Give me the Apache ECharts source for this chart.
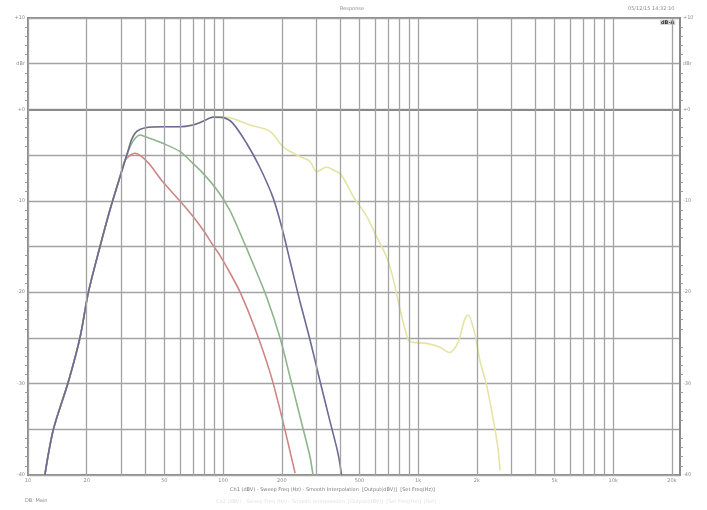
<!DOCTYPE html>
<html><head><meta charset="utf-8">
<script src="https://cdn.jsdelivr.net/npm/echarts@6/dist/echarts.min.js"></script>
<style>html,body{margin:0;padding:0;background:#fff}#c{width:707px;height:510px}</style>
</head><body><div id="c"></div>
<script>
// ---- data ----
const xGridFreqs = [10,20,30,40,50,60,70,80,90,100,200,300,400,500,600,700,800,900,1000,2000,3000,4000,5000,6000,7000,8000,9000,10000,20000];
const xLabelFreqs = [10,20,50,100,200,500,1000,2000,5000,10000,20000];
const xLabelTexts = ['10','20','50','100','200','500','1k','2k','5k','10k','20k'];
const yTickValues = [10,5,0,-10,-20,-30,-40];
const yLeftLabels = ['+10','dBr','+0','-10','-20','-30','-40'];
const yRightLabels = ['+10','dBr','+0','-10','-20','-30','-40'];

const riseFreq = [12.2,13.5,16.1,18.5,20.4,23.4,26.3,29.6];
const riseLevel = [-40,-35,-29.8,-24.9,-20,-15,-11,-7.4];

const redFreq = [31.4,33.5,35.4,38,42,49,60,70,79,89,96.5,108.6,122.3,145.9,174.2,196.1,215.4,234];
const redLevel = [-5.6,-5.0,-4.8,-5.1,-6.0,-7.9,-10,-11.7,-13.2,-14.9,-16.0,-17.9,-20.0,-24.0,-28.8,-32.9,-36.5,-39.8];

const greenFreq = [32.1,34.5,37.5,40,49,60,70,79,93,108,122,142,167,196,220,252,279,289];
const greenLevel = [-5,-3.5,-2.8,-3,-3.7,-4.6,-5.9,-7,-8.8,-11,-13.5,-16.8,-20.5,-25.0,-29.2,-34.2,-38.0,-40];

const blueFreq = [32.1,34,36.1,40,49,60,70,79,89,100,112,132,154,180,200,220,247,279,313,352,388,405];
const blueLevel = [-5,-3.3,-2.4,-2,-1.9,-1.9,-1.7,-1.3,-0.85,-0.9,-1.5,-3.7,-6.3,-9.6,-12.9,-16.5,-20.9,-25.2,-29.6,-34,-37.6,-40];

const yellowFreq = [32.1,34,36.1,40,49,60,70,79,89,100,108,137,174,203,239,279,302,340,365,397,429,464,545,611,687,740,802,868,906,1100,1284,1445,1594,1730,1800,1950,2070,2250,2430,2560,2630];
const yellowLevel = [-5,-3.3,-2.4,-2,-1.9,-1.9,-1.7,-1.3,-0.85,-0.85,-0.9,-1.7,-2.4,-4.1,-5,-5.7,-6.8,-6.3,-6.6,-7,-8.1,-9.5,-11.7,-13.9,-16.1,-18.3,-21.6,-24.5,-25.4,-25.6,-26,-26.6,-25.6,-23,-22.5,-24.5,-27.4,-30.3,-34,-36.9,-39.5];

function pairs(f, l){ return f.map((v,i)=>[v,l[i]]); }
function withRise(f, l){ return pairs(riseFreq.concat(f), riseLevel.concat(l)); }

const chart = echarts.init(document.getElementById('c'), null, {renderer:'canvas'});
const gridColor = '#a3a3a3';
const labelStyle = {fontSize:5, color:'#8c8c8c', fontFamily:'DejaVu Sans'};

const markData = xGridFreqs.map(v => {
  const i = xLabelFreqs.indexOf(v);
  return {xAxis: v, label: i >= 0 ? {show:true, formatter: xLabelTexts[i]} : {show:false}};
});

function yFmt(labels){
  return function(v){ const i = yTickValues.indexOf(v); return i >= 0 ? labels[i] : ''; };
}

chart.setOption({
  animation:false,
  backgroundColor:'#fff',
  grid:{left:28, right:27, top:18, bottom:35, show:true, borderColor:'#8a8a8a', borderWidth:2, containLabel:false},
  xAxis:{type:'log', logBase:10, min:10, max:22000,
    axisLine:{show:true, lineStyle:{color:'#8a8a8a', width:2}},
    axisTick:{show:false}, axisLabel:{show:false}, splitLine:{show:false}},
  yAxis:[
    {type:'value', min:-40, max:10, interval:5, position:'left',
      axisLine:{show:true, lineStyle:{color:'#8a8a8a', width:2}},
      axisTick:{show:false},
      minorTick:{show:true, splitNumber:5, length:3, lineStyle:{color:'#9a9a9a'}},
      axisLabel:Object.assign({formatter:yFmt(yLeftLabels), margin:3}, labelStyle),
      splitLine:{show:true, lineStyle:{color:gridColor, width:1.3}}},
    {type:'value', min:-40, max:10, interval:5, position:'right',
      axisLine:{show:true, lineStyle:{color:'#8a8a8a', width:2}},
      axisTick:{show:false},
      minorTick:{show:true, splitNumber:5, length:3, lineStyle:{color:'#9a9a9a'}},
      axisLabel:Object.assign({formatter:yFmt(yRightLabels), margin:3}, labelStyle),
      splitLine:{show:false}}
  ],
  series:[
    {type:'line', name:'grid', data:[], silent:true,
      markLine:{silent:true, symbol:['none','none'], animation:false,
        lineStyle:{color:gridColor, width:1.3, type:'solid'},
        label:Object.assign({position:'start', distance:3}, labelStyle),
        emphasis:{disabled:true},
        data:markData}},
    {type:'line', name:'yellow', data:withRise(yellowFreq, yellowLevel), showSymbol:false, smooth:0.3,
      lineStyle:{color:'#e4e4a4', width:1.6}, itemStyle:{color:'#e4e4a4'}},
    {type:'line', name:'red', data:withRise(redFreq, redLevel), showSymbol:false, smooth:0.3,
      lineStyle:{color:'#cf8585', width:1.6}, itemStyle:{color:'#cf8585'}},
    {type:'line', name:'green', data:withRise(greenFreq, greenLevel), showSymbol:false, smooth:0.3,
      lineStyle:{color:'#8db58d', width:1.6}, itemStyle:{color:'#8db58d'}},
    {type:'line', name:'blue', data:withRise(blueFreq, blueLevel), showSymbol:false, smooth:0.3,
      lineStyle:{color:'#6b6b95', width:1.6}, itemStyle:{color:'#6b6b95'}}
  ],
  graphic:[
    {type:'text', left:340, top:6, style:{text:'Response', fontSize:5, fill:'#8c8c8c', fontFamily:'DejaVu Sans'}},
    {type:'text', left:628, top:6, style:{text:'05/12/15 14:32:10', fontSize:5, fill:'#8c8c8c', fontFamily:'DejaVu Sans'}},
    {type:'text', left:660, top:20, style:{text:'dB-A', fontSize:5, fontWeight:'bold', fill:'#333', backgroundColor:'#d8d8d8', padding:[0,1], fontFamily:'DejaVu Sans'}},
    {type:'text', left:230, top:487, style:{text:'Ch1 (dBV) - Sweep Freq (Hz) - Smooth Interpolation  [Output(dBV)]  [Set Freq(Hz)]', fontSize:5, fill:'#7a7a7a', fontFamily:'DejaVu Sans'}},
    {type:'text', left:216, top:499, style:{text:'Ch2 (dBV) - Sweep Freq (Hz) - Smooth Interpolation  [Output(dBV)]  [Set Freq(Hz)]  [Ref]', fontSize:5, fill:'#e2e2e2', fontFamily:'DejaVu Sans'}},
    {type:'text', left:25, top:498, style:{text:'DB: Main', fontSize:5, fill:'#8c8c8c', fontFamily:'DejaVu Sans'}}
  ]
});
</script></body></html>
